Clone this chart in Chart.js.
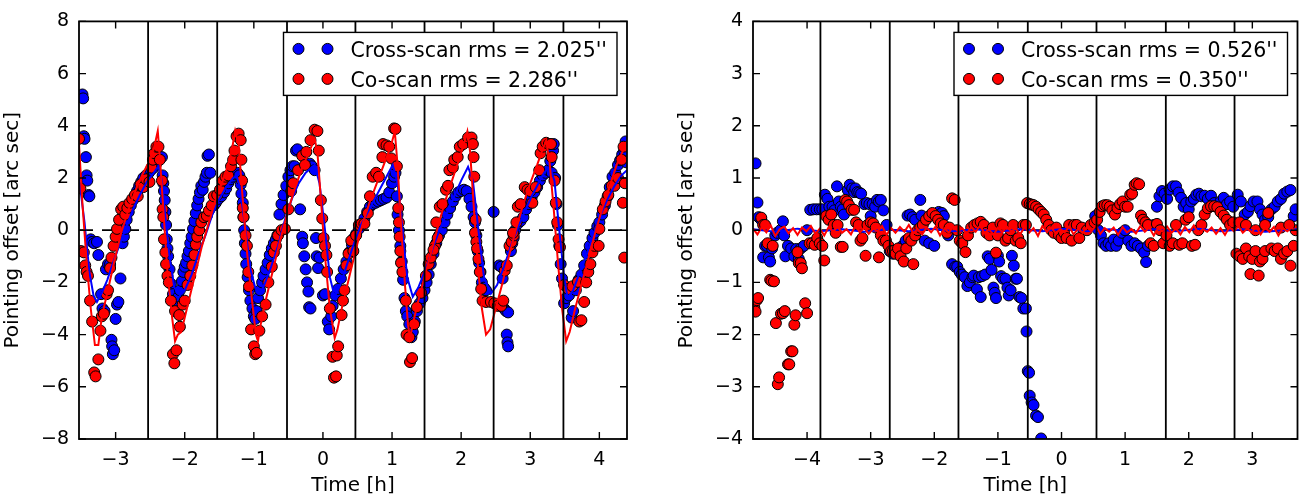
<!DOCTYPE html>
<html>
<head>
<meta charset="utf-8">
<title>Pointing offsets</title>
<script src="https://cdn.jsdelivr.net/npm/chart.js@4.4.1/dist/chart.umd.min.js"></script>
<style>
    html, body { margin: 0; padding: 0; background: #fff; }
    #wrap { position: relative; width: 1304px; height: 497px; }
    .panel { position: absolute; top: 0; height: 497px; }
</style>
</head>
<body>
<div id="wrap">
    <div class="panel" style="left:0;width:650px"><canvas id="leftPanel"></canvas></div>
    <div class="panel" style="left:674px;width:630px"><canvas id="rightPanel"></canvas></div>
</div>
<script>
// ---- left panel data: [time h, offset arcsec] ----
const leftXRange = [-3.53, 4.40];
const leftYRange = [-8, 8];
const leftXTicks = [-3, -2, -1, 0, 1, 2, 3, 4];
const leftYTicks = [-8, -6, -4, -2, 0, 2, 4, 6, 8];
const leftScanEdges = [-2.53, -1.53, -0.52, 0.47, 1.47, 2.47, 3.48];
const leftLegend = ["Cross-scan rms = 2.025''", "Co-scan rms = 2.286''"];

const leftCrossScan = [
    [-3.48,5.2],[-3.47,5.05],[-3.46,3.6],[-3.45,3.5],[-3.43,2.8],[-3.42,2.1],[-3.41,1.9],[-3.39,1.35],[-3.38,1.3],
    [-3.36,-0.35],[-3.34,-0.45],[-3.31,-0.5],[-3.27,-0.45],[-3.25,-0.95],[-3.21,-2.45],[-3.19,-3.0],[-3.16,-3.1],
    [-3.14,-1.5],[-3.11,-1.3],[-3.08,-1.3],[-3.06,-4.2],[-3.05,-4.45],[-3.04,-4.75],[-3.02,-4.6],[-3.0,-3.4],
    [-2.98,-2.85],[-2.96,-2.75],[-2.93,-1.85],[-2.9,-0.5],[-2.88,-0.25],[-2.86,0.05],[-2.84,0.4],[-2.81,0.7],
    [-2.78,0.95],[-2.75,1.15],[-2.72,1.3],[-2.69,1.5],[-2.66,1.7],[-2.63,1.85],[-2.6,2.0],[-2.56,2.1],[-2.52,2.2],
    [-2.49,2.3],[-2.45,2.4],[-2.42,2.5],[-2.39,2.65],[-2.36,2.75],[-2.33,2.8],[-2.32,2.1],[-2.31,1.8],[-2.3,1.5],
    [-2.29,1.15],[-2.28,0.7],[-2.27,0.2],[-2.26,-0.35],[-2.25,-0.7],[-2.24,-1.0],[-2.22,-1.5],[-2.2,-2.05],
    [-2.17,-2.45],[-2.14,-2.7],[-2.11,-2.8],[-2.09,-2.55],[-2.07,-2.3],[-2.04,-1.95],[-2.02,-1.6],[-2.0,-1.4],
    [-1.98,-1.25],[-1.96,-1.0],[-1.94,-0.8],[-1.92,-0.5],[-1.9,-0.25],[-1.88,0.05],[-1.86,0.35],[-1.84,0.65],
    [-1.82,0.95],[-1.8,1.2],[-1.78,1.45],[-1.76,1.7],[-1.74,1.55],[-1.72,1.85],[-1.7,2.05],[-1.68,2.2],
    [-1.67,2.85],[-1.65,2.9],[-1.63,2.2],[-1.58,0.95],[-1.55,1.05],[-1.51,1.2],[-1.47,1.3],[-1.43,1.45],
    [-1.4,1.6],[-1.37,1.8],[-1.34,1.95],[-1.31,2.05],[-1.28,2.15],[-1.24,2.2],[-1.21,2.1],[-1.19,1.75],
    [-1.18,1.4],[-1.16,1.05],[-1.15,0.5],[-1.14,0.0],[-1.13,-0.5],[-1.12,-0.9],[-1.11,-1.3],[-1.09,-1.8],
    [-1.07,-2.3],[-1.05,-2.7],[-1.02,-3.0],[-1.0,-3.3],[-0.98,-3.4],[-0.96,-3.1],[-0.94,-2.6],[-0.91,-2.3],
    [-0.88,-2.0],[-0.86,-1.75],[-0.83,-1.5],[-0.8,-1.25],[-0.77,-0.95],[-0.74,-0.7],[-0.71,-0.5],[-0.68,-0.35],
    [-0.66,-0.2],[-0.63,0.6],[-0.6,1.0],[-0.57,1.35],[-0.53,1.7],[-0.5,2.05],[-0.47,2.3],[-0.44,2.45],
    [-0.41,2.45],[-0.39,3.05],[-0.37,3.1],[-0.33,0.8],[-0.3,-0.25],[-0.29,-0.5],[-0.27,-1.0],[-0.25,-1.5],
    [-0.23,-2.0],[-0.21,-2.35],[-0.2,-2.95],[-0.18,-3.0],[-0.19,2.55],[-0.16,2.45],[-0.12,2.3],[-0.1,-0.3],
    [-0.09,-1.0],[-0.07,-1.45],[-0.05,-1.05],[0.0,-2.5],[0.03,-2.45],[0.07,-3.5],[0.09,-3.8],[0.12,-3.3],
    [0.14,-2.9],[0.18,-2.5],[0.22,-2.25],[0.26,-1.85],[0.3,-1.5],[0.34,-1.2],[0.38,-0.85],[0.42,-0.55],
    [0.45,-0.3],[0.48,-0.15],[0.52,0.05],[0.56,0.2],[0.6,0.45],[0.64,0.7],[0.68,0.9],[0.72,1.0],[0.76,1.05],
    [0.8,1.1],[0.84,1.15],[0.88,1.2],[0.92,1.25],[0.96,1.45],[1.0,1.8],[1.03,2.05],[1.05,2.2],[1.07,1.3],
    [1.08,0.6],[1.1,0.0],[1.12,-0.6],[1.14,-1.2],[1.16,-1.9],[1.18,-2.6],[1.2,-3.1],[1.22,-3.3],[1.25,-3.6],
    [1.28,-4.1],[1.3,-3.9],[1.33,-3.5],[1.36,-3.1],[1.4,-2.8],[1.44,-2.6],[1.47,-2.3],[1.5,-2.0],[1.53,-1.7],
    [1.56,-1.3],[1.6,-0.9],[1.64,-0.5],[1.68,-0.2],[1.72,0.0],[1.76,0.3],[1.8,0.6],[1.84,0.85],[1.88,1.1],
    [1.92,1.3],[1.96,1.45],[2.0,1.5],[2.04,1.55],[2.08,1.5],[2.12,1.2],[2.15,0.9],[2.18,0.5],[2.2,0.3],
    [2.22,-0.2],[2.24,-0.8],[2.26,-1.25],[2.28,-1.6],[2.3,-2.0],[2.33,-2.2],[2.36,-2.3],[2.47,0.7],[2.55,-1.35],
    [2.58,-1.4],[2.6,-1.85],[2.62,-3.0],[2.65,-3.1],[2.68,-3.15],[2.66,-4.0],[2.67,-4.3],[2.68,-4.45],
    [2.72,-0.8],[2.74,-0.5],[2.76,-0.3],[2.78,0.0],[2.82,0.25],[2.86,0.35],[2.9,0.5],[2.94,0.8],[2.98,1.0],
    [3.02,1.25],[3.06,1.45],[3.1,1.65],[3.14,1.9],[3.18,2.1],[3.22,2.2],[3.26,2.3],[3.29,2.65],[3.31,2.2],
    [3.33,3.05],[3.34,3.3],[3.36,2.0],[3.38,1.0],[3.4,0.2],[3.42,-0.6],[3.44,-1.3],[3.46,-1.85],[3.49,-2.8],
    [3.52,-2.6],[3.56,-2.5],[3.6,-3.35],[3.62,-3.1],[3.66,-2.3],[3.7,-1.9],[3.74,-1.7],[3.78,-1.35],
    [3.82,-0.9],[3.86,-0.6],[3.9,-0.3],[3.93,-0.1],[3.97,0.15],[4.0,0.3],[4.04,0.6],[4.08,0.95],[4.12,1.3],
    [4.15,1.65],[4.19,2.05],[4.23,2.2],[4.27,2.5],[4.3,2.68],[4.33,2.9],[4.36,3.05],[4.38,3.4],[4.39,2.6]
];

const leftCoScan = [
    [-3.53,3.5],[-3.51,1.6],[-3.5,-0.8],[-3.46,-0.85],[-3.44,-1.35],[-3.42,-1.6],[-3.4,-1.75],[-3.37,-2.7],
    [-3.34,-3.5],[-3.31,-5.45],[-3.29,-5.6],[-3.25,-4.95],[-3.22,-3.85],[-3.2,-3.3],[-3.17,-3.2],[-3.13,-2.45],
    [-3.11,-2.3],[-3.08,-1.45],[-3.06,-1.05],[-3.03,-0.6],[-3.0,-0.25],[-2.98,0.05],[-2.95,0.4],[-2.92,0.8],
    [-2.89,0.9],[-2.86,0.6],[-2.83,0.85],[-2.8,1.05],[-2.76,1.2],[-2.72,1.35],[-2.68,1.3],[-2.64,1.75],
    [-2.6,1.65],[-2.56,1.95],[-2.51,1.85],[-2.48,2.4],[-2.46,2.7],[-2.44,2.95],[-2.41,3.2],[-2.38,3.2],
    [-2.36,2.7],[-2.33,1.9],[-2.32,0.8],[-2.31,0.5],[-2.3,-0.35],[-2.28,-0.85],[-2.27,-1.3],[-2.25,-1.75],
    [-2.23,-2.0],[-2.2,-2.7],[-2.17,-4.75],[-2.15,-5.1],[-2.14,-3.1],[-2.12,-4.6],[-2.08,-3.25],[-2.07,-3.7],
    [-2.03,-2.85],[-2.0,-2.7],[-1.96,-2.1],[-1.92,-1.75],[-1.89,-1.35],[-1.86,-0.95],[-1.84,-0.55],[-1.82,-0.25],
    [-1.79,0.0],[-1.76,0.3],[-1.72,0.5],[-1.68,0.55],[-1.65,0.75],[-1.61,0.95],[-1.58,1.3],[-1.53,1.35],
    [-1.49,1.55],[-1.45,1.9],[-1.41,2.05],[-1.37,2.1],[-1.33,2.45],[-1.3,2.7],[-1.28,3.05],[-1.25,3.6],
    [-1.22,3.7],[-1.19,3.45],[-1.18,2.7],[-1.17,1.9],[-1.16,0.85],[-1.15,0.5],[-1.12,-0.2],[-1.1,-0.6],
    [-1.08,-1.6],[-1.07,-2.15],[-1.04,-3.8],[-1.0,-4.45],[-0.98,-4.75],[-0.96,-4.7],[-0.92,-3.85],[-0.88,-3.3],
    [-0.83,-2.85],[-0.79,-2.0],[-0.74,-1.4],[-0.71,-0.85],[-0.68,-0.6],[-0.65,-0.2],[-0.6,0.0],[-0.55,0.05],
    [-0.5,0.8],[-0.46,1.5],[-0.43,1.8],[-0.36,2.3],[-0.3,2.85],[-0.26,2.5],[-0.24,3.0],[-0.18,3.45],
    [-0.12,3.85],[-0.08,3.8],[-0.06,3.05],[-0.03,1.15],[-0.01,0.45],[0.01,-0.3],[0.03,-0.6],[0.05,-0.95],
    [0.06,-1.6],[0.1,-3.0],[0.14,-4.85],[0.16,-5.65],[0.19,-5.6],[0.2,-4.8],[0.22,-4.45],[0.27,-3.25],
    [0.29,-2.7],[0.31,-2.3],[0.34,-1.35],[0.37,-0.9],[0.41,-0.4],[0.44,-0.8],[0.48,-0.2],[0.52,0.2],
    [0.56,0.25],[0.6,0.25],[0.65,0.65],[0.68,1.3],[0.72,2.05],[0.77,2.2],[0.81,2.05],[0.86,2.8],[0.87,3.3],
    [0.92,3.25],[0.96,3.2],[0.99,2.75],[1.03,3.9],[1.05,3.88],[1.07,2.45],[1.09,0.85],[1.1,0.3],[1.11,-0.25],
    [1.12,-0.8],[1.13,-1.25],[1.15,-1.6],[1.2,-2.7],[1.21,-4.0],[1.25,-4.1],[1.26,-5.05],[1.29,-4.9],
    [1.32,-3.6],[1.36,-2.95],[1.42,-2.4],[1.49,-1.75],[1.53,-1.3],[1.56,-1.05],[1.62,-0.6],[1.66,-0.3],
    [1.6,-0.75],[1.64,0.3],[1.69,0.9],[1.73,1.0],[1.78,1.55],[1.81,1.7],[1.83,2.3],[1.88,2.4],[1.9,2.7],
    [1.95,2.8],[1.98,3.2],[2.03,3.3],[2.1,3.55],[2.15,3.55],[2.17,3.3],[2.18,2.8],[2.19,2.05],[2.21,0.4],
    [2.2,-0.1],[2.22,-0.45],[2.23,-0.7],[2.25,-1.1],[2.27,-1.6],[2.29,-2.25],[2.31,-2.7],[2.36,-2.75],
    [2.43,-2.75],[2.48,-2.8],[2.53,-2.9],[2.58,-2.9],[2.61,-2.7],[2.63,-1.55],[2.66,-1.35],[2.7,-0.6],
    [2.73,-0.45],[2.76,-0.2],[2.75,-0.1],[2.8,0.3],[2.82,0.9],[2.86,1.0],[2.92,1.65],[2.96,1.55],[3.0,1.5],
    [3.03,1.05],[3.08,1.65],[3.13,2.3],[3.15,2.95],[3.18,3.2],[3.23,3.35],[3.27,3.3],[3.3,3.3],[3.31,2.8],
    [3.35,1.9],[3.37,1.05],[3.39,0.3],[3.41,-0.35],[3.43,-0.65],[3.49,-2.1],[3.55,-2.25],[3.61,-2.15],
    [3.69,-1.98],[3.71,-3.5],[3.74,-3.45],[3.78,-2.75],[3.81,-2.0],[3.84,-1.6],[3.87,-1.3],[3.9,-0.85],
    [3.93,-0.6],[3.99,-0.6],[4.0,0.05],[4.05,0.8],[4.09,1.1],[4.13,1.35],[4.18,1.7],[4.22,1.7],[4.27,2.0],
    [4.32,2.7],[4.34,1.05],[4.35,3.2],[4.36,-1.05],[4.37,1.8]
];

const leftCrossFit = [
    [-3.53,2.0],[-3.45,0.3],[-3.38,-1.6],[-3.32,-2.5],[-3.27,-2.75],[-3.2,-2.4],[-3.12,-1.9],[-3.05,-1.35],
    [-2.95,-0.6],[-2.85,0.1],[-2.75,0.8],[-2.65,1.35],[-2.55,1.85],[-2.45,2.2],[-2.38,2.45],[-2.33,1.9],
    [-2.28,0.5],[-2.22,-1.0],[-2.15,-2.2],[-2.07,-2.5],[-2.0,-2.3],[-1.9,-1.7],[-1.8,-0.9],[-1.7,-0.2],
    [-1.6,0.6],[-1.5,1.2],[-1.4,1.65],[-1.3,2.0],[-1.25,2.1],[-1.2,1.6],[-1.12,0.0],[-1.05,-1.5],[-0.98,-2.2],
    [-0.91,-2.45],[-0.85,-2.1],[-0.75,-1.4],[-0.65,-0.6],[-0.55,0.4],[-0.45,1.2],[-0.35,1.8],[-0.25,2.2],
    [-0.12,2.5],[-0.05,1.8],[0.03,0.0],[0.1,-1.8],[0.17,-2.55],[0.25,-2.1],[0.35,-1.3],[0.45,-0.5],[0.55,0.2],
    [0.65,0.7],[0.75,1.2],[0.85,1.7],[0.95,2.2],[1.01,2.5],[1.08,1.8],[1.15,0.0],[1.22,-1.8],[1.3,-2.55],
    [1.38,-2.2],[1.5,-1.4],[1.6,-0.6],[1.7,0.1],[1.8,0.7],[1.9,1.3],[2.0,1.9],[2.1,2.43],[2.17,1.9],[2.25,0.0],
    [2.33,-1.8],[2.43,-2.43],[2.52,-2.1],[2.62,-1.4],[2.72,-0.6],[2.82,0.1],[2.92,0.7],[3.02,1.3],[3.12,1.8],
    [3.2,2.2],[3.28,2.43],[3.35,1.9],[3.42,0.0],[3.49,-1.8],[3.54,-2.6],[3.62,-2.3],[3.72,-1.6],[3.82,-0.9],
    [3.92,-0.1],[4.02,0.6],[4.12,1.2],[4.22,1.7],[4.32,2.1],[4.4,2.3]
];

const leftCoFit = [
    [-3.53,3.3],[-3.48,1.0],[-3.42,-1.2],[-3.36,-3.0],[-3.3,-4.4],[-3.25,-4.4],[-3.2,-3.3],[-3.12,-2.4],
    [-3.02,-1.2],[-2.92,-0.1],[-2.8,0.9],[-2.7,1.6],[-2.6,2.2],[-2.5,2.7],[-2.44,3.2],[-2.39,3.8],[-2.36,2.8],
    [-2.31,0.8],[-2.25,-1.6],[-2.18,-3.4],[-2.14,-4.25],[-2.1,-4.0],[-2.05,-3.9],[-1.95,-2.8],[-1.85,-1.7],
    [-1.75,-0.6],[-1.65,0.3],[-1.55,1.2],[-1.45,1.9],[-1.37,2.5],[-1.31,3.2],[-1.27,3.8],[-1.22,3.3],
    [-1.17,1.5],[-1.1,-0.8],[-1.03,-2.6],[-0.97,-4.0],[-0.94,-4.25],[-0.9,-3.6],[-0.82,-2.6],[-0.72,-1.5],
    [-0.62,-0.4],[-0.52,0.6],[-0.42,1.5],[-0.3,2.4],[-0.2,3.0],[-0.12,3.5],[-0.08,3.0],[-0.03,1.2],[0.03,-1.0],
    [0.1,-3.0],[0.17,-4.13],[0.21,-3.8],[0.28,-2.9],[0.38,-1.8],[0.48,-0.7],[0.58,0.3],[0.68,1.1],[0.78,1.8],
    [0.88,2.5],[0.98,3.2],[1.04,3.78],[1.08,2.5],[1.13,0.2],[1.19,-2.2],[1.23,-3.6],[1.26,-4.13],[1.3,-3.6],
    [1.38,-2.7],[1.48,-1.7],[1.58,-0.7],[1.68,0.3],[1.78,1.2],[1.88,2.0],[1.98,2.8],[2.05,3.4],[2.09,3.78],
    [2.13,3.0],[2.18,1.0],[2.24,-1.3],[2.3,-3.0],[2.36,-4.0],[2.42,-3.8],[2.5,-3.0],[2.6,-2.0],[2.7,-0.9],
    [2.8,0.1],[2.9,1.0],[3.0,1.8],[3.1,2.5],[3.18,3.1],[3.23,3.43],[3.28,2.6],[3.34,0.8],[3.4,-1.2],
    [3.46,-3.0],[3.52,-4.25],[3.57,-3.9],[3.65,-3.0],[3.75,-2.0],[3.85,-1.0],[3.95,0.0],[4.05,0.9],
    [4.15,1.7],[4.25,2.5],[4.35,3.1],[4.4,3.4]
];

// ---- right panel data ----
const rightXRange = [-4.85, 3.71];
const rightYRange = [-4, 4];
const rightXTicks = [-4, -3, -2, -1, 0, 1, 2, 3];
const rightYTicks = [-4, -3, -2, -1, 0, 1, 2, 3, 4];
const rightScanEdges = [-3.79, -2.70, -1.62, -0.53, 0.55, 1.64, 2.72];
const rightLegend = ["Cross-scan rms = 0.526''", "Co-scan rms = 0.350''"];

const rightCrossScan = [
    [-4.81,1.28],[-4.78,0.53],[-4.76,0.25],[-4.72,0.2],[-4.69,-0.52],[-4.66,-0.3],[-4.63,-0.3],[-4.6,-0.52],
    [-4.58,-0.6],[-4.55,-0.35],[-4.5,-0.1],[-4.47,-0.05],[-4.42,0.0],[-4.38,0.17],[-4.36,-0.1],[-4.34,-0.5],
    [-4.3,-0.3],[-4.25,-0.35],[-4.2,-0.5],[-4.17,-0.36],[-4.13,-0.55],[-4.1,-0.35],[-4.05,-0.3],[-4.0,0.0],
    [-3.95,0.39],[-3.9,0.4],[-3.85,0.4],[-3.8,0.4],[-3.76,0.4],[-3.72,0.68],[-3.68,0.6],[-3.65,0.45],
    [-3.6,0.45],[-3.57,0.38],[-3.53,0.84],[-3.5,0.55],[-3.47,0.45],[-3.44,0.4],[-3.42,0.3],[-3.36,0.77],
    [-3.33,0.87],[-3.29,0.8],[-3.26,0.73],[-3.24,0.8],[-3.21,0.73],[-3.18,0.72],[-3.15,0.7],[-3.1,0.5],
    [-3.06,0.52],[-3.02,0.5],[-3.0,0.27],[-2.97,0.5],[-2.93,0.45],[-2.9,0.58],[-2.87,0.55],[-2.84,0.58],
    [-2.8,0.38],[-2.75,0.1],[-2.7,-0.4],[-2.65,-0.45],[-2.6,-0.4],[-2.55,-0.42],[-2.5,-0.3],[-2.45,-0.2],
    [-2.42,0.28],[-2.38,0.3],[-2.34,0.25],[-2.3,0.2],[-2.22,0.58],[-2.2,0.28],[-2.15,-0.2],[-2.08,-0.25],
    [-2.0,-0.3],[-1.93,0.35],[-1.88,0.33],[-1.85,0.27],[-1.78,-0.1],[-1.72,-0.65],[-1.67,-0.7],[-1.64,-0.7],
    [-1.6,-0.8],[-1.57,-0.85],[-1.52,-0.9],[-1.48,-1.07],[-1.44,-1.0],[-1.4,-0.9],[-1.38,-0.87],[-1.33,-1.13],
    [-1.3,-0.9],[-1.27,-1.28],[-1.25,-0.88],[-1.2,-0.85],[-1.16,-0.5],[-1.13,-0.55],[-1.1,-0.76],[-1.07,-1.1],
    [-1.05,-1.2],[-1.03,-1.3],[-1.0,-0.49],[-0.98,-0.6],[-0.95,-0.88],[-0.92,-0.93],[-0.88,-0.93],[-0.85,-1.1],
    [-0.83,-1.25],[-0.8,-1.15],[-0.78,-0.49],[-0.75,-0.68],[-0.72,-0.93],[-0.7,-0.93],[-0.66,-1.28],
    [-0.63,-1.3],[-0.6,-1.5],[-0.56,-1.5],[-0.55,-1.94],[-0.53,-2.7],[-0.51,-2.73],[-0.5,-3.17],[-0.47,-3.3],
    [-0.44,-3.35],[-0.4,-3.55],[-0.37,-3.58],[-0.32,-3.99],
    [0.53,0.27],[0.58,0.0],[0.62,-0.1],[0.66,-0.25],[0.7,-0.3],[0.74,-0.25],[0.78,-0.3],[0.82,-0.18],
    [0.86,-0.3],[0.9,-0.2],[0.95,-0.05],[1.0,0.0],[1.05,-0.2],[1.1,-0.3],[1.15,-0.25],[1.2,-0.3],[1.25,-0.35],
    [1.3,-0.43],[1.33,-0.61],[1.36,-0.3],[1.45,0.1],[1.5,0.45],[1.54,0.65],[1.58,0.75],[1.62,0.7],[1.66,0.6],
    [1.7,0.78],[1.75,0.84],[1.8,0.84],[1.84,0.72],[1.88,0.62],[1.92,0.45],[1.96,0.52],[2.0,0.4],[2.04,0.55],
    [2.08,0.6],[2.12,0.68],[2.16,0.7],[2.2,0.65],[2.25,0.66],[2.3,0.6],[2.35,0.66],[2.4,0.52],[2.45,0.45],
    [2.5,0.55],[2.55,0.62],[2.6,0.5],[2.65,0.55],[2.7,0.45],[2.77,0.68],[2.82,0.55],[2.88,0.3],[2.93,0.35],
    [2.97,0.46],[3.02,0.55],[3.08,0.55],[3.12,0.4],[3.16,0.3],[3.2,0.2],[3.25,0.25],[3.3,0.4],[3.35,0.45],
    [3.4,0.55],[3.45,0.6],[3.5,0.7],[3.55,0.74],[3.6,0.77],[3.65,0.27],[3.68,0.4]
];

const rightCoScan = [
    [-4.83,-1.48],[-4.81,-1.56],[-4.79,-1.34],[-4.77,-1.3],[-4.72,0.24],[-4.69,0.1],[-4.66,0.1],[-4.62,-0.25],
    [-4.58,-0.95],[-4.56,-0.97],[-4.54,-0.3],[-4.52,-0.98],[-4.49,-1.78],[-4.46,-2.95],[-4.44,-2.82],
    [-4.41,-1.6],[-4.38,-1.59],[-4.35,-1.55],[-4.3,-2.57],[-4.28,-2.57],[-4.25,-2.32],[-4.23,-2.32],
    [-4.2,-1.81],[-4.18,-1.63],[-4.15,-0.42],[-4.13,-0.63],[-4.1,-0.63],[-4.08,-0.73],[-4.03,-1.4],[-4.0,-1.59],
    [-3.96,-0.25],[-3.92,-0.25],[-3.88,-0.28],[-3.84,-0.15],[-3.8,-0.25],[-3.76,-0.3],[-3.73,-0.58],
    [-3.7,0.27],[-3.66,0.2],[-3.62,0.3],[-3.58,0.1],[-3.55,-0.05],[-3.52,0.1],[-3.47,-0.32],[-3.44,-0.32],
    [-3.4,0.58],[-3.37,0.55],[-3.34,0.48],[-3.3,0.39],[-3.26,0.39],[-3.23,0.15],[-3.19,0.1],[-3.16,-0.2],
    [-3.13,-0.15],[-3.08,-0.49],[-3.05,0.1],[-3.0,0.15],[-2.96,0.13],[-2.92,0.05],[-2.87,-0.52],[-2.84,-0.1],
    [-2.8,-0.2],[-2.76,-0.2],[-2.72,-0.3],[-2.68,-0.4],[-2.65,-0.4],[-2.61,-0.45],[-2.57,-0.35],[-2.53,-0.5],
    [-2.48,-0.6],[-2.44,-0.35],[-2.4,-0.15],[-2.36,-0.2],[-2.33,-0.65],[-2.3,-0.1],[-2.26,0.0],[-2.22,0.05],
    [-2.18,0.1],[-2.13,0.2],[-2.08,0.27],[-2.03,0.33],[-1.98,0.27],[-1.94,0.2],[-1.9,0.13],[-1.85,0.1],
    [-1.8,-0.05],[-1.76,0.05],[-1.72,0.61],[-1.68,0.58],[-1.64,0.0],[-1.6,-0.2],[-1.56,-0.25],[-1.51,-0.42],
    [-1.47,-0.1],[-1.42,0.05],[-1.37,0.1],[-1.32,0.13],[-1.27,0.16],[-1.22,0.1],[-1.18,-0.05],[-1.13,-0.1],
    [-1.08,0.05],[-1.03,-0.43],[-1.0,-0.1],[-0.96,0.13],[-0.92,0.1],[-0.88,-0.2],[-0.84,-0.15],[-0.8,0.0],
    [-0.76,0.1],[-0.72,-0.2],[-0.68,-0.15],[-0.64,-0.25],[-0.6,0.1],[-0.56,0.1],[-0.54,0.52],[-0.5,0.5],
    [-0.47,0.49],[-0.44,0.48],[-0.4,0.45],[-0.36,0.4],[-0.32,0.35],[-0.28,0.3],[-0.24,0.2],[-0.2,0.1],
    [-0.16,0.0],[-0.12,-0.05],[-0.08,0.05],[-0.04,-0.1],[0.0,-0.15],[0.04,-0.05],[0.08,-0.15],[0.12,0.1],
    [0.16,-0.2],[0.2,0.1],[0.24,0.1],[0.28,-0.15],[0.32,0.05],[0.4,0.0],[0.46,0.1],[0.52,0.15],[0.56,0.2],
    [0.6,0.35],[0.64,0.46],[0.68,0.48],[0.72,0.48],[0.76,0.45],[0.8,0.38],[0.84,0.3],[0.88,0.42],[0.92,0.5],
    [0.96,0.55],[1.0,0.45],[1.04,0.45],[1.08,0.68],[1.11,0.7],[1.15,0.87],[1.18,0.9],[1.22,0.88],[1.25,0.28],
    [1.28,0.2],[1.32,0.15],[1.36,0.1],[1.4,-0.25],[1.45,-0.3],[1.5,0.12],[1.55,0.0],[1.6,-0.25],[1.65,-0.1],
    [1.7,-0.3],[1.75,-0.25],[1.8,0.1],[1.85,-0.28],[1.9,-0.25],[1.95,0.2],[2.0,0.25],[2.05,-0.3],[2.1,-0.28],
    [2.15,0.0],[2.2,0.1],[2.25,0.3],[2.3,0.42],[2.35,0.46],[2.4,0.46],[2.45,0.44],[2.5,0.35],[2.55,0.28],
    [2.6,0.2],[2.65,0.1],[2.7,0.15],[2.75,-0.45],[2.8,-0.5],[2.85,-0.55],[2.9,-0.35],[2.95,-0.5],[2.97,-0.84],
    [3.0,-0.55],[3.05,-0.4],[3.1,-0.87],[3.12,-0.6],[3.16,-0.55],[3.2,-0.4],[3.25,0.33],[3.3,-0.35],
    [3.35,-0.4],[3.4,-0.35],[3.45,-0.55],[3.5,-0.45],[3.55,-0.4],[3.6,-0.68],[3.65,-0.3],[3.68,0.0],
    [2.8,0.15],[2.9,0.1],[3.05,0.0],[3.2,0.1],[3.45,0.05],[3.58,0.1]
];

// model curves on the right are flat with small jitter
const rightFitTimes = [
    -4.85,-4.78,-4.71,-4.64,-4.57,-4.50,-4.43,-4.36,-4.29,-4.22,
    -4.15,-4.08,-4.01,-3.94,-3.87,-3.80,-3.73,-3.66,-3.59,-3.52,
    -3.45,-3.38,-3.31,-3.24,-3.17,-3.10,-3.03,-2.96,-2.89,-2.82,
    -2.75,-2.68,-2.61,-2.54,-2.47,-2.40,-2.33,-2.26,-2.19,-2.12,
    -2.05,-1.98,-1.91,-1.84,-1.77,-1.70,-1.63,-1.56,-1.49,-1.42,
    -1.35,-1.28,-1.21,-1.14,-1.07,-1.00,-0.93,-0.86,-0.79,-0.72,
    -0.65,-0.58,-0.51,-0.44,-0.37,-0.30,-0.23,-0.16,-0.09,-0.02,
    0.05,0.12,0.19,0.26,0.33,0.40,0.47,0.54,0.61,0.68,
    0.75,0.82,0.89,0.96,1.03,1.10,1.17,1.24,1.31,1.38,
    1.45,1.52,1.59,1.66,1.73,1.80,1.87,1.94,2.01,2.08,
    2.15,2.22,2.29,2.36,2.43,2.50,2.57,2.64,2.71,2.78,
    2.85,2.92,2.99,3.06,3.13,3.20,3.27,3.34,3.41,3.48,
    3.55,3.62,3.69
];
const rightCoFitValues = [
    0.03,-0.08,0.06,-0.04,0.09,-0.11,0.02,0.07,-0.06,0.04,
    -0.09,0.05,-0.02,0.08,-0.07,0.03,-0.1,0.06,-0.03,0.07,
    -0.05,0.02,-0.08,0.09,-0.04,0.05,-0.07,0.03,-0.02,0.08,
    -0.09,0.04,-0.05,0.06,-0.03,0.1,-0.06,0.02,-0.08,0.05,
    -0.04,0.07,-0.1,0.03,-0.05,0.08,-0.02,0.04,-0.07,0.06,
    -0.03,0.09,-0.06,0.02,-0.09,0.05,-0.04,0.07,-0.02,0.03,
    -0.08,0.06,-0.05,0.04,-0.11,0.08,-0.03,0.05,-0.06,0.02,
    -0.04,0.07,-0.08,0.03,-0.05,0.06,-0.02,0.09,-0.07,0.04,
    -0.03,0.05,-0.09,0.06,-0.04,0.02,-0.06,0.08,-0.03,0.05,
    -0.1,0.04,-0.02,0.07,-0.05,0.03,-0.08,0.06,-0.04,0.09,
    -0.06,0.02,-0.03,0.05,-0.07,0.04,-0.09,0.06,-0.02,0.08,
    -0.05,0.03,-0.04,0.07,-0.08,0.05,-0.03,0.06,-0.1,0.04,
    -0.02,0.05,-0.06
];
const rightCrossFit = [
    [-4.85,0.02],[-4.5,-0.03],[-4.15,0.03],[-3.8,-0.02],[-3.45,0.02],[-3.1,-0.03],[-2.75,0.02],[-2.4,-0.02],
    [-2.05,0.03],[-1.7,-0.02],[-1.35,0.02],[-1.0,-0.03],[-0.65,0.02],[-0.3,-0.02],[0.05,0.03],[0.4,-0.02],
    [0.75,0.02],[1.1,-0.03],[1.45,0.02],[1.8,-0.02],[2.15,0.03],[2.5,-0.02],[2.85,0.02],[3.2,-0.03],[3.71,0.02]
];

// ---- drawing ----
const FONT = 'DejaVu Sans';
const BLUE = '#0000ff';
const RED = '#ff0000';
const TICK_LEN = 7;
const MARKER_R = 5.5;

Chart.defaults.font.family = FONT;
Chart.defaults.color = '#000';

const pts = arr => arr.map(([x, y]) => ({ x, y }));

// frame + inward ticks on all four sides (matplotlib classic look)
const axesFrame = {
    id: 'axesFrame',
    afterDatasetsDraw(chart) {
        const { ctx, chartArea: a, scales } = chart;
        ctx.save();
        ctx.strokeStyle = '#000';
        ctx.lineWidth = 1.4;
        ctx.beginPath();
        scales.x.ticks.forEach(t => {
            const px = scales.x.getPixelForValue(t.value);
            ctx.moveTo(px, a.bottom); ctx.lineTo(px, a.bottom - TICK_LEN);
            ctx.moveTo(px, a.top); ctx.lineTo(px, a.top + TICK_LEN);
        });
        scales.y.ticks.forEach(t => {
            const py = scales.y.getPixelForValue(t.value);
            ctx.moveTo(a.left, py); ctx.lineTo(a.left + TICK_LEN, py);
            ctx.moveTo(a.right, py); ctx.lineTo(a.right - TICK_LEN, py);
        });
        ctx.stroke();
        ctx.lineWidth = 1.8;
        ctx.strokeRect(a.left, a.top, a.right - a.left, a.bottom - a.top);
        ctx.restore();
    }
};

// legend box in the upper right, two markers per entry
const scanLegend = {
    id: 'scanLegend',
    afterDraw(chart, args, opts) {
        const { ctx, chartArea: a } = chart;
        ctx.save();
        ctx.font = '20.5px "' + FONT + '"';
        const textW = Math.max(...opts.labels.map(l => ctx.measureText(l).width));
        const w = 67 + textW + 10;
        const h = 63;
        const x0 = a.right - 10 - w;
        const y0 = a.top + 11;
        ctx.fillStyle = '#fff';
        ctx.fillRect(x0, y0, w, h);
        ctx.strokeStyle = '#000';
        ctx.lineWidth = 1.4;
        ctx.strokeRect(x0, y0, w, h);
        opts.labels.forEach((label, i) => {
            const cy = y0 + 16.5 + i * 30;
            [15, 44].forEach(dx => {
                ctx.beginPath();
                ctx.arc(x0 + dx, cy, MARKER_R, 0, Math.PI * 2);
                ctx.fillStyle = opts.colors[i];
                ctx.fill();
                ctx.lineWidth = 1;
                ctx.stroke();
            });
            ctx.fillStyle = '#000';
            ctx.textBaseline = 'alphabetic';
            ctx.fillText(label, x0 + 67, y0 + 24.5 + i * 30);
        });
        ctx.restore();
    }
};

function fmtTick(v) {
    return v < 0 ? '\u2212' + Math.abs(v) : String(v);
}

function makePanel(canvasId, cfg) {
    const ctx = document.getElementById(canvasId);
    const [xmin, xmax] = cfg.xRange;
    const [ymin, ymax] = cfg.yRange;

    const datasets = [];
    // dashed zero line
    datasets.push({
        data: [{ x: xmin, y: 0 }, { x: xmax, y: 0 }],
        showLine: true, borderColor: '#000', borderWidth: 1.8, borderDash: [14, 9],
        pointRadius: 0, order: 20
    });
    datasets.push({
        data: pts(cfg.cross), backgroundColor: BLUE, borderColor: '#000',
        borderWidth: 1, pointRadius: MARKER_R, order: 15
    });
    datasets.push({
        data: pts(cfg.co), backgroundColor: RED, borderColor: '#000',
        borderWidth: 1, pointRadius: MARKER_R, order: 14
    });
    datasets.push({
        data: pts(cfg.crossFit), showLine: true, borderColor: BLUE, borderWidth: 2,
        pointRadius: 0, order: 10
    });
    datasets.push({
        data: pts(cfg.coFit), showLine: true, borderColor: RED, borderWidth: 2,
        pointRadius: 0, order: 9
    });
    // boundaries between scans
    cfg.edges.forEach(t => {
        datasets.push({
            data: [{ x: t, y: ymin }, { x: t, y: ymax }],
            showLine: true, borderColor: '#000', borderWidth: 1.8, pointRadius: 0, order: 1
        });
    });
    datasets.forEach(d => { d.clip = 0; });

    return new Chart(ctx, {
        type: 'scatter',
        data: { datasets },
        options: {
            responsive: true,
            maintainAspectRatio: false,
            animation: false,
            devicePixelRatio: 1,
            events: [],
            layout: { padding: { top: 16, right: cfg.padRight, left: 0, bottom: 0 } },
            plugins: {
                legend: { display: false },
                tooltip: { enabled: false },
                scanLegend: { labels: cfg.legend, colors: [BLUE, RED] }
            },
            scales: {
                x: {
                    type: 'linear', min: xmin, max: xmax,
                    grid: { display: false, drawTicks: false },
                    border: { display: false },
                    afterBuildTicks: s => { s.ticks = cfg.xTicks.map(v => ({ value: v })); },
                    afterFit: s => { s.height = 58; },
                    ticks: { font: { size: 19 }, padding: 10, maxRotation: 0, autoSkip: false, callback: fmtTick },
                    title: { display: true, text: 'Time [h]', font: { size: 20, lineHeight: 1 }, padding: { top: 0, bottom: 1 } }
                },
                y: {
                    type: 'linear', min: ymin, max: ymax,
                    grid: { display: false, drawTicks: false },
                    border: { display: false },
                    afterBuildTicks: s => { s.ticks = cfg.yTicks.map(v => ({ value: v })); },
                    afterFit: s => { s.width = 79; },
                    ticks: { font: { size: 19 }, padding: 10, autoSkip: false, callback: fmtTick },
                    title: { display: true, text: 'Pointing offset [arc sec]', font: { size: 20, lineHeight: 1 }, padding: { top: 3, bottom: 0 } }
                }
            }
        },
        plugins: [axesFrame, scanLegend]
    });
}

makePanel('leftPanel', {
    xRange: leftXRange, yRange: leftYRange, xTicks: leftXTicks, yTicks: leftYTicks,
    edges: leftScanEdges, legend: leftLegend, padRight: 23,
    cross: leftCrossScan, co: leftCoScan, crossFit: leftCrossFit, coFit: leftCoFit
});

makePanel('rightPanel', {
    xRange: rightXRange, yRange: rightYRange, xTicks: rightXTicks, yTicks: rightYTicks,
    edges: rightScanEdges, legend: rightLegend, padRight: 4,
    cross: rightCrossScan, co: rightCoScan,
    crossFit: rightCrossFit,
    coFit: rightFitTimes.map((t, i) => [t, rightCoFitValues[i]])
});
</script>
</body>
</html>
